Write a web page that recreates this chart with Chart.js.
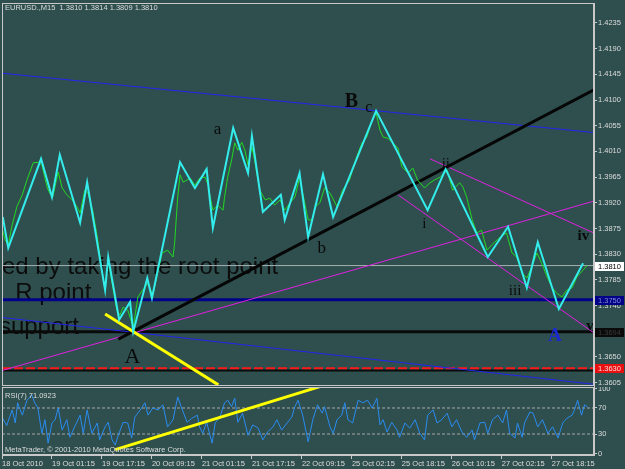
<!DOCTYPE html>
<html><head><meta charset="utf-8">
<script src="https://cdn.jsdelivr.net/npm/chart.js@4/dist/chart.umd.min.js"></script>
<style>
html,body{margin:0;padding:0;background:#2f4f4f;width:625px;height:469px;overflow:hidden}
canvas{position:absolute;left:0}
#main{top:0}
#rsi{top:387px}
</style></head><body>
<canvas id="main" width="625" height="387"></canvas>
<canvas id="rsi" width="625" height="82"></canvas>
<script>
// ---------- DATA ----------
const symbol = 'EURUSD.,M15';
const ohlc = [1.3810, 1.3814, 1.3809, 1.3810];
const priceTicks = [1.4235,1.4190,1.4145,1.4100,1.4055,1.4010,1.3965,1.3920,1.3875,1.3830,1.3785,1.3740,1.3695,1.3650,1.3605];
const timeTickBars = [0,64,128,192,256,320,384,448,512,576,640,704];
const timeLabels = ['18 Oct 2010','19 Oct 01:15','19 Oct 17:15','20 Oct 09:15','21 Oct 01:15','21 Oct 17:15','22 Oct 09:15','25 Oct 02:15','25 Oct 18:15','26 Oct 10:15','27 Oct 02:15','27 Oct 18:15'];

const zigzagBars = [1,8,50,64,74,100,109,132,136,150,164,168,186,192,228,247,262,270,296,315,320,334,357,362,381,392,411,424,479,545,568,622,648,672,686,713,744];
const zigzagPrices = [1.3895,1.3841,1.3997,1.3930,1.4004,1.3885,1.3956,1.3767,1.3825,1.3715,1.3746,1.3694,1.3788,1.3753,1.3991,1.3946,1.3979,1.3876,1.4051,1.3972,1.4037,1.3904,1.3934,1.3890,1.3972,1.3860,1.3970,1.3895,1.4081,1.3907,1.3979,1.3825,1.3878,1.3771,1.3851,1.3734,1.3814];

const closeBars = [0,4,8,13,19,26,32,40,47,51,58,61,65,72,77,83,90,96,100,106,110,116,122,129,132,136,141,147,151,155,161,168,174,180,187,193,200,205,212,219,221,225,228,232,241,247,253,260,264,266,270,276,283,285,289,294,298,302,307,311,315,320,324,330,337,343,349,356,362,369,375,381,385,392,397,401,407,413,420,429,436,445,454,461,467,474,479,484,488,494,500,507,512,520,526,532,541,548,554,561,570,577,586,590,595,602,608,614,621,627,634,641,646,653,659,666,672,678,685,691,698,704,710,717,723,730,736,744,749];
const closePrices = [1.3876,1.3855,1.3846,1.3881,1.3913,1.3934,1.3960,1.3990,1.3991,1.3986,1.3946,1.3937,1.3930,1.3974,1.3946,1.3934,1.3925,1.3913,1.3902,1.3942,1.3937,1.3907,1.3860,1.3790,1.3768,1.3820,1.3779,1.3732,1.3723,1.3737,1.3732,1.3702,1.3755,1.3767,1.3779,1.3758,1.3802,1.3832,1.3837,1.3825,1.3849,1.3930,1.3969,1.3956,1.3963,1.3951,1.3963,1.3965,1.3951,1.3934,1.3907,1.3916,1.3907,1.3930,1.3965,1.3995,1.4025,1.4012,1.4026,1.4012,1.3986,1.4018,1.3990,1.3942,1.3925,1.3928,1.3916,1.3925,1.3907,1.3920,1.3930,1.3963,1.3937,1.3890,1.3890,1.3913,1.3920,1.3946,1.3937,1.3913,1.3942,1.3960,1.4000,1.4025,1.4035,1.4065,1.4077,1.4047,1.4035,1.4033,1.4025,1.4016,1.3983,1.3972,1.3981,1.3960,1.3946,1.3955,1.3960,1.3965,1.3977,1.3942,1.3955,1.3948,1.3930,1.3890,1.3867,1.3872,1.3837,1.3846,1.3855,1.3863,1.3867,1.3832,1.3825,1.3797,1.3788,1.3807,1.3832,1.3814,1.3790,1.3772,1.3762,1.3755,1.3767,1.3771,1.3790,1.3802,1.3810];

// trend lines: [bar, price] end points
const blueUpper = [[0,1.4147],[758,1.4043]];
const blueLower = [[0,1.3719],[758,1.3602]];
const blackTrend = [[149,1.3681],[758,1.4118]];
const yellowMain = [[132,1.3725],[277,1.3601]];
const magentaLong = [[0,1.3626],[758,1.3923]];
const magentaUpper = [[548,1.3997],[758,1.3867]];
const magentaLower = [[507,1.3934],[758,1.3692]];
const hLevels = [1.3810, 1.3750, 1.3694, 1.3630, 1.3626];
const priceBoxes = [1.3810, 1.3750, 1.3694, 1.3630];

const noteTexts = ['ed by taking the root point','R point','support'];
const noteBars = [0, 17, -4];
const notePrices = [1.3795, 1.3750, 1.3690];

const letterTexts = ['B','c','a','b','A','A','i','ii','iii','iv','v'];
const letterBars = [439,465,271,404,157,699,538,563,649,737,748];
const letterPrices = [1.4088,1.4079,1.4040,1.3832,1.3639,1.3678,1.3876,1.3981,1.3758,1.3855,1.3697];

const rsiPeriod = 7;
const rsiLast = 71.0923;
const rsiLevels = [70, 30];
const rsiTicks = [100, 70, 30, 0];
const rsiBars = [1,6,13,17,20,26,32,38,42,46,51,55,59,64,68,72,77,83,87,93,100,104,109,115,122,125,132,136,141,145,148,155,161,166,170,177,183,187,193,200,206,212,219,225,230,237,243,250,253,257,262,269,273,279,285,289,294,298,302,308,315,321,328,334,340,347,352,358,365,371,375,379,385,392,398,404,410,413,420,424,429,435,439,443,449,456,462,468,474,480,484,488,493,499,506,509,516,522,529,535,541,545,552,557,563,570,576,582,589,595,602,605,612,618,622,628,635,641,646,650,657,660,666,669,676,680,686,692,699,705,712,718,723,730,733,737,742,746,750];
const rsiValues = [54,43,67,47,78,59,82,90,78,70,31,52,16,47,52,70,36,52,25,41,59,31,67,31,47,21,41,48,21,13,25,48,47,24,56,67,78,59,70,67,75,41,52,87,70,48,54,59,41,31,48,16,47,56,78,82,72,85,48,62,28,44,39,21,33,41,52,36,47,56,72,82,59,18,52,75,62,72,41,31,52,59,78,52,47,82,78,82,70,85,44,52,33,48,36,25,47,39,52,31,21,59,67,47,52,62,41,52,33,25,36,21,47,48,31,52,59,47,67,31,24,47,25,47,64,62,41,52,31,41,24,47,54,59,67,82,59,75,71.09];
const yellowRsi = [[145,6],[410,104]];

// ---------- STYLES ----------
const FONT = '"Liberation Sans", Arial, sans-serif';
const SERIF = '"Liberation Serif", "Times New Roman", serif';
const axisColor = '#c8c8c8';
const textColor = '#dcdcdc';
const hLevelStyles = [
  {c:'#a6b0b0', w:1, d:[]},
  {c:'#000088', w:3, d:[]},
  {c:'#0a0a0a', w:3, d:[]},
  {c:'#ff1a1a', w:2, d:[9,3]},
  {c:'#0a0a0a', w:2, d:[]}
];
const boxStyles = [
  {bg:'#ffffff', fg:'#000000'},
  {bg:'#000088', fg:'#7f8fd0'},
  {bg:'#0a0a0a', fg:'#3a3a3a'},
  {bg:'#e81010', fg:'#ffd8d8'}
];
const letterStyles = [
  {f:'bold 20px '+SERIF, c:'#0a0a0a'},
  {f:'16px '+SERIF, c:'#0a0a0a'},
  {f:'17px '+SERIF, c:'#0a0a0a'},
  {f:'17px '+SERIF, c:'#0a0a0a'},
  {f:'22px '+SERIF, c:'#0a0a0a'},
  {f:'bold 19px '+SERIF, c:'#1a2ad0'},
  {f:'15px '+SERIF, c:'#0a0a0a'},
  {f:'15px '+SERIF, c:'#0a0a0a'},
  {f:'15px '+SERIF, c:'#0a0a0a'},
  {f:'bold 15px '+SERIF, c:'#0a0a0a'},
  {f:'bold 15px '+SERIF, c:'#0a0a0a'}
];

const pts = (bars, vals) => bars.map((b, i) => ({x: b, y: vals[i]}));
const seg = a => a.map(p => ({x: p[0], y: p[1]}));
const lineDs = (data, color, width, order, dash) => ({
  data, borderColor: color, borderWidth: width, pointRadius: 0, tension: 0,
  fill: false, order, borderDash: dash || [], borderCapStyle: 'butt'
});
const noPad = s => { s.paddingTop = 0; s.paddingBottom = 0; s.paddingLeft = 0; s.paddingRight = 0; };

// ---------- MAIN CHART ----------
const mainDecor = {
  id: 'mainDecor',
  beforeDatasetsDraw(chart) {
    const {ctx, chartArea: a, scales: {x, y}} = chart;
    ctx.save();
    ctx.beginPath(); ctx.rect(a.left, a.top, a.right - a.left, a.bottom - a.top); ctx.clip();
    ctx.fillStyle = '#0c0c0c';
    ctx.font = '24px ' + FONT;
    ctx.textBaseline = 'alphabetic';
    noteTexts.forEach((t, i) => ctx.fillText(t, x.getPixelForValue(noteBars[i]), y.getPixelForValue(notePrices[i])));
    ctx.restore();
  },
  afterDatasetsDraw(chart) {
    const {ctx, chartArea: a, scales: {x, y}} = chart;
    ctx.save();
    ctx.beginPath(); ctx.rect(a.left, a.top, a.right - a.left, a.bottom - a.top); ctx.clip();
    ctx.textBaseline = 'alphabetic';
    letterTexts.forEach((t, i) => {
      ctx.font = letterStyles[i].f; ctx.fillStyle = letterStyles[i].c;
      ctx.fillText(t, x.getPixelForValue(letterBars[i]), y.getPixelForValue(letterPrices[i]));
    });
    ctx.restore();
    ctx.save();
    ctx.strokeStyle = axisColor; ctx.lineWidth = 1;
    ctx.strokeRect(a.left + 0.5, a.top + 0.5, a.right - a.left - 1, a.bottom - a.top - 1);
    ctx.fillStyle = textColor; ctx.font = '7.5px ' + FONT; ctx.textBaseline = 'top';
    ctx.fillText(symbol + '  ' + ohlc.map(v => v.toFixed(4)).join(' '), a.left + 3, a.top + 1);
    ctx.restore();
  },
  afterDraw(chart) {
    const {ctx, chartArea: a, scales: {y}} = chart;
    ctx.save();
    ctx.font = '7.5px ' + FONT; ctx.textBaseline = 'middle';
    priceBoxes.forEach((p, i) => {
      const py = Math.round(y.getPixelForValue(p));
      ctx.fillStyle = boxStyles[i].bg;
      ctx.fillRect(a.right + 1, py - 4, 29, 9);
      ctx.fillStyle = boxStyles[i].fg;
      ctx.fillText(p.toFixed(4), a.right + 4, py + 0.5);
    });
    ctx.restore();
  }
};

const mainDatasets = [
  lineDs(pts(zigzagBars, zigzagPrices), '#33ecec', 2, 1),
  lineDs(pts(closeBars, closePrices), '#22d822', 1, 2),
  lineDs(seg(yellowMain), '#ffff00', 3, 3),
  lineDs(seg(blackTrend), '#060606', 3, 4),
  lineDs(seg(magentaLong), '#e020e0', 1, 5),
  lineDs(seg(magentaUpper), '#e020e0', 1, 5),
  lineDs(seg(magentaLower), '#e020e0', 1, 5),
  lineDs(seg(blueUpper), '#2424ee', 1, 6),
  lineDs(seg(blueLower), '#2424ee', 1, 6)
];
hLevels.forEach((p, i) => {
  const s = hLevelStyles[i];
  mainDatasets.push(lineDs([{x: 0, y: p}, {x: 758, y: p}], s.c, s.w, 7 + i * 0.1 + (i === 4 ? 1 : 0), s.d));
});

new Chart(document.getElementById('main'), {
  type: 'line',
  data: {datasets: mainDatasets},
  options: {
    responsive: false, animation: false, devicePixelRatio: 1,
    layout: {padding: {left: 2, top: 3, bottom: 1, right: 0}},
    plugins: {legend: {display: false}, tooltip: {enabled: false}},
    scales: {
      x: {type: 'linear', min: 0, max: 758, display: false},
      y: {
        type: 'linear', position: 'right', min: 1.3599, max: 1.4270,
        afterBuildTicks: s => { s.ticks = priceTicks.map(v => ({value: v})); },
        afterFit: s => { s.width = 31; noPad(s); },
        grid: {drawOnChartArea: false, drawTicks: true, tickLength: 3, color: axisColor},
        border: {display: true, color: axisColor},
        ticks: {color: textColor, font: {family: FONT, size: 7.5}, padding: 1, callback: v => Number(v).toFixed(4)}
      }
    }
  },
  plugins: [mainDecor]
});

// ---------- RSI CHART ----------
const rsiDecor = {
  id: 'rsiDecor',
  afterDraw(chart) {
    const {ctx, chartArea: a} = chart;
    ctx.save();
    ctx.strokeStyle = axisColor; ctx.lineWidth = 1;
    ctx.strokeRect(a.left + 0.5, a.top + 0.5, a.right - a.left - 1, a.bottom - a.top - 1);
    ctx.fillStyle = textColor; ctx.font = '7.5px ' + FONT; ctx.textBaseline = 'top';
    ctx.fillText('RSI(' + rsiPeriod + ') ' + rsiLast.toFixed(4), a.left + 3, a.top + 5);
    ctx.textBaseline = 'bottom';
    ctx.fillText('MetaTrader, \u00A9 2001-2010 MetaQuotes Software Corp.', a.left + 3, a.bottom - 1);
    ctx.restore();
  }
};

const rsiDatasets = [
  lineDs(seg(yellowRsi), '#ffff00', 3, 1),
  lineDs(pts(rsiBars, rsiValues), '#2a8cf0', 1, 2)
];
rsiLevels.forEach(l => rsiDatasets.push(lineDs([{x: 0, y: l}, {x: 758, y: l}], '#a8a8a8', 1, 3, [3, 2])));

new Chart(document.getElementById('rsi'), {
  type: 'line',
  data: {datasets: rsiDatasets},
  options: {
    responsive: false, animation: false, devicePixelRatio: 1,
    layout: {padding: {left: 2, top: 0, bottom: 0, right: 0}},
    plugins: {legend: {display: false}, tooltip: {enabled: false}},
    scales: {
      x: {
        type: 'linear', min: 0, max: 758, position: 'bottom',
        afterBuildTicks: s => { s.ticks = timeTickBars.map(v => ({value: v})); },
        afterFit: s => { s.height = 14; noPad(s); },
        grid: {drawOnChartArea: false, drawTicks: true, tickLength: 4, color: axisColor},
        border: {display: true, color: axisColor},
        ticks: {
          color: textColor, font: {family: FONT, size: 7.5}, padding: 0, align: 'start',
          maxRotation: 0, minRotation: 0, autoSkip: false,
          callback: v => timeLabels[timeTickBars.indexOf(v)]
        }
      },
      y: {
        type: 'linear', position: 'right', min: -2.3, max: 102.3,
        afterBuildTicks: s => { s.ticks = rsiTicks.map(v => ({value: v})); },
        afterFit: s => { s.width = 31; noPad(s); },
        grid: {drawOnChartArea: false, drawTicks: true, tickLength: 3, color: axisColor},
        border: {display: true, color: axisColor},
        ticks: {color: textColor, font: {family: FONT, size: 7.5}, padding: 1, callback: v => String(v)}
      }
    }
  },
  plugins: [rsiDecor]
});
</script>
</body></html>
